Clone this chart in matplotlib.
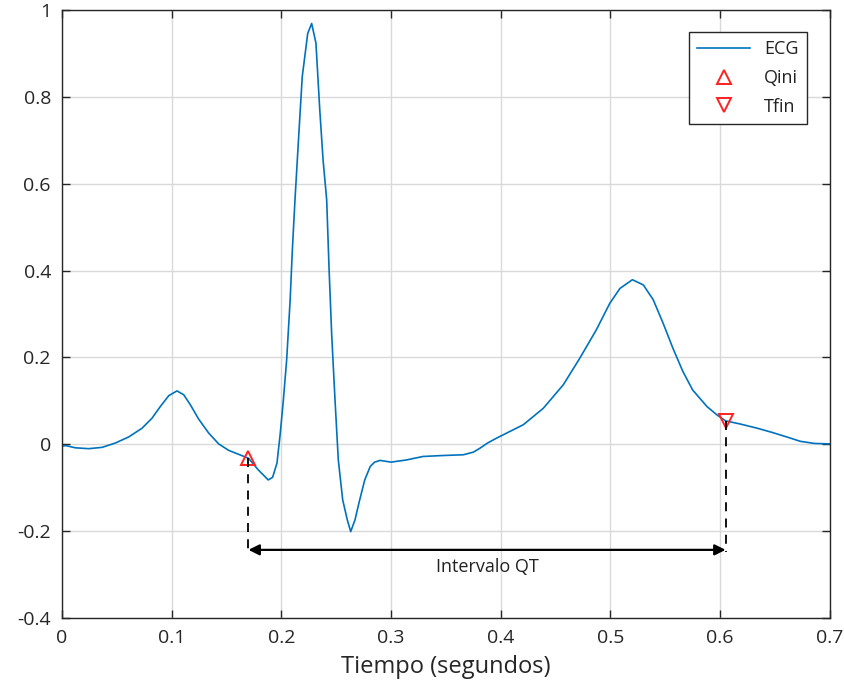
import matplotlib.pyplot as plt
import numpy as np

# ECG samples (seconds, amplitude)
t = [0.000, 0.0036, 0.0121, 0.0243, 0.0365, 0.0486, 0.0608, 0.0729, 0.082, 0.0896,
     0.0973, 0.1048, 0.111, 0.117, 0.1246, 0.1337, 0.1428, 0.152, 0.161, 0.170,
     0.179, 0.188, 0.192, 0.196, 0.199, 0.2018, 0.2048, 0.208, 0.210, 0.2124,
     0.2154, 0.219, 0.224, 0.2276, 0.2315, 0.235, 0.238, 0.2413, 0.2434, 0.2458,
     0.2489, 0.2519, 0.2559, 0.2601, 0.2632, 0.2671, 0.271, 0.276, 0.281, 0.285,
     0.290, 0.300, 0.314, 0.329, 0.345, 0.366, 0.375, 0.381, 0.388, 0.396,
     0.4205, 0.4388, 0.457, 0.472, 0.487, 0.4995, 0.5087, 0.520, 0.530, 0.539,
     0.548, 0.557, 0.566, 0.575, 0.588, 0.597, 0.605, 0.618, 0.634, 0.648,
     0.662, 0.673, 0.686, 0.700]
ecg = [-0.004, -0.003, -0.008, -0.010, -0.007, 0.003, 0.017, 0.037, 0.060, 0.087,
       0.112, 0.123, 0.114, 0.091, 0.058, 0.026, 0.001, -0.014, -0.023, -0.032,
       -0.059, -0.082, -0.076, -0.043, 0.026, 0.102, 0.194, 0.333, 0.448, 0.563,
       0.693, 0.846, 0.946, 0.969, 0.924, 0.770, 0.655, 0.563, 0.409, 0.256,
       0.102, -0.036, -0.128, -0.174, -0.201, -0.174, -0.132, -0.082, -0.051, -0.041,
       -0.037, -0.041, -0.036, -0.028, -0.026, -0.024, -0.018, -0.009, 0.003, 0.014,
       0.045, 0.083, 0.137, 0.198, 0.263, 0.325, 0.359, 0.379, 0.367, 0.333,
       0.279, 0.221, 0.168, 0.125, 0.087, 0.068, 0.054, 0.047, 0.037, 0.027,
       0.016, 0.007, 0.002, 0.001]

q_ini = (0.170, -0.032)
t_fin = (0.605, 0.054)
arrow_y = -0.243
label_qt = "Intervalo QT"

xticks = [0, 0.1, 0.2, 0.3, 0.4, 0.5, 0.6, 0.7]
xticklabels = ["0", "0.1", "0.2", "0.3", "0.4", "0.5", "0.6", "0.7"]
yticks = [-0.4, -0.2, 0, 0.2, 0.4, 0.6, 0.8, 1]
yticklabels = ["-0.4", "-0.2", "0", "0.2", "0.4", "0.6", "0.8", "1"]

plt.rcParams["font.family"] = ["Open Sans", "DejaVu Sans"]
axcol = "#262626"

fig = plt.figure(figsize=(8.45, 6.96), dpi=100)
ax = fig.add_axes([0.0734, 0.112, 0.9086, 0.8736])

ax.plot(t, ecg, color="#0072BD", lw=1.2, label="ECG")
ax.plot(*q_ini, linestyle="none", marker="^", markersize=10, mfc="none",
        mec="#FF2020", mew=1.4, label="Qini")
ax.plot(*t_fin, linestyle="none", marker="v", markersize=10, mfc="none",
        mec="#FF2020", mew=1.4, label="Tfin")

# dashed drops and QT arrow
ax.plot([q_ini[0], q_ini[0]], [q_ini[1], arrow_y - 0.005], color="black",
        lw=1.3, ls=(0, (5, 4)))
ax.plot([t_fin[0], t_fin[0]], [t_fin[1], arrow_y - 0.005], color="black",
        lw=1.3, ls=(0, (5, 4)))
ax.annotate("", xy=(t_fin[0], arrow_y), xytext=(q_ini[0], arrow_y),
            arrowprops=dict(arrowstyle="<|-|>", color="black", lw=1.6,
                            mutation_scale=16, shrinkA=0, shrinkB=0))
ax.text((q_ini[0] + t_fin[0]) / 2, arrow_y - 0.04, label_qt, ha="center",
        va="center", fontsize=13, color="#222222")

ax.set_xlim(0, 0.7)
ax.set_ylim(-0.4, 1)
ax.set_xticks(xticks)
ax.set_xticklabels(xticklabels)
ax.set_yticks(yticks)
ax.set_yticklabels(yticklabels)
ax.tick_params(direction="in", top=True, right=True, length=6, width=1,
               colors=axcol, labelsize=14, pad=8)
ax.grid(True, color="#d9d9d9", lw=1)
ax.set_axisbelow(True)
for s in ax.spines.values():
    s.set_color(axcol)
    s.set_linewidth(1)

ax.set_xlabel("Tiempo (segundos)", fontsize=17, color=axcol, labelpad=6)

leg = ax.legend(loc="upper right", bbox_to_anchor=(0.970, 0.964), fontsize=13,
                fancybox=False, framealpha=1, edgecolor=axcol,
                borderaxespad=0, handlelength=2.9, borderpad=0.45,
                labelspacing=0.6)
leg.get_frame().set_linewidth(1)
for txt in leg.get_texts():
    txt.set_color("#222222")

fig.savefig("out.png", dpi=100)
